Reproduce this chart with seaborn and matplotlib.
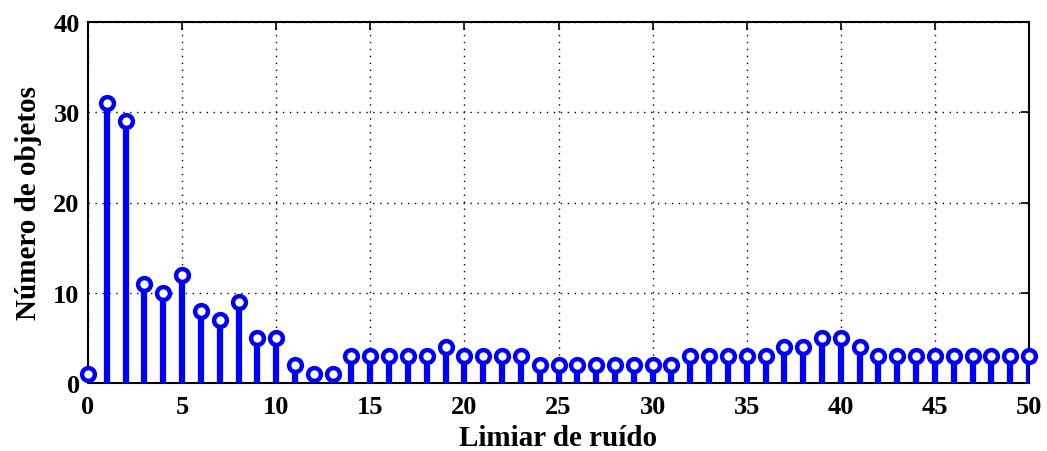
import numpy as np
import pandas as pd
import matplotlib
matplotlib.use("Agg")
import matplotlib.pyplot as plt
import seaborn as sns

# Noise threshold (x) and number of detected objects (y)
limiar = list(range(0, 51))
objetos = [1, 31, 29, 11, 10, 12, 8, 7, 9, 5, 5,
           2, 1, 1, 3, 3, 3, 3, 3, 4, 3,
           3, 3, 3, 2, 2, 2, 2, 2, 2, 2,
           2, 3, 3, 3, 3, 3, 4, 4, 5, 5,
           4, 3, 3, 3, 3, 3, 3, 3, 3, 3]
xticks = list(range(0, 51, 5))
yticks = [0, 10, 20, 30, 40]

df = pd.DataFrame({"limiar": limiar, "objetos": objetos})

sns.set_style("white")
plt.rcParams["font.family"] = ["Liberation Serif", "DejaVu Serif"]
plt.rcParams["font.weight"] = "bold"
plt.rcParams["text.color"] = "black"
plt.rcParams["axes.labelcolor"] = "black"

fig = plt.figure(figsize=(10.47, 4.52), dpi=100)
ax = fig.add_axes([88 / 1047, 1 - 384 / 452, (1029 - 88) / 1047, (384 - 23) / 452])

blue = "#0000ff"
ax.vlines(df["limiar"], 0, df["objetos"], color=blue, linewidth=4.5, zorder=3)
sns.scatterplot(data=df, x="limiar", y="objetos", ax=ax, marker="o",
                s=85, facecolor="white", edgecolor=blue, linewidth=3.2,
                zorder=4, clip_on=False)

ax.set_xlim(0, 50)
ax.set_ylim(0, 40)
ax.set_xticks(xticks)
ax.set_yticks(yticks)
ax.grid(True, color="black", linestyle=(0, (1, 4)), linewidth=1.0)
ax.set_axisbelow(True)
for s in ax.spines.values():
    s.set_color("black")
    s.set_linewidth(1.5)
    s.set_visible(True)
ax.tick_params(direction="in", length=6, width=1.2, top=True, right=True,
               labelsize=19, colors="black")
ax.tick_params(axis="x", pad=9)
ax.tick_params(axis="y", pad=6)
for lab in ax.get_xticklabels() + ax.get_yticklabels():
    lab.set_fontweight("bold")
    lab.set_color("black")

ax.set_xlabel("Limiar de ruído", fontsize=21, fontweight="bold", labelpad=4,
              color="black")
ax.set_ylabel("Número de objetos", fontsize=21, fontweight="bold", labelpad=8,
              color="black")

fig.savefig("out.png", dpi=100, facecolor="white")
